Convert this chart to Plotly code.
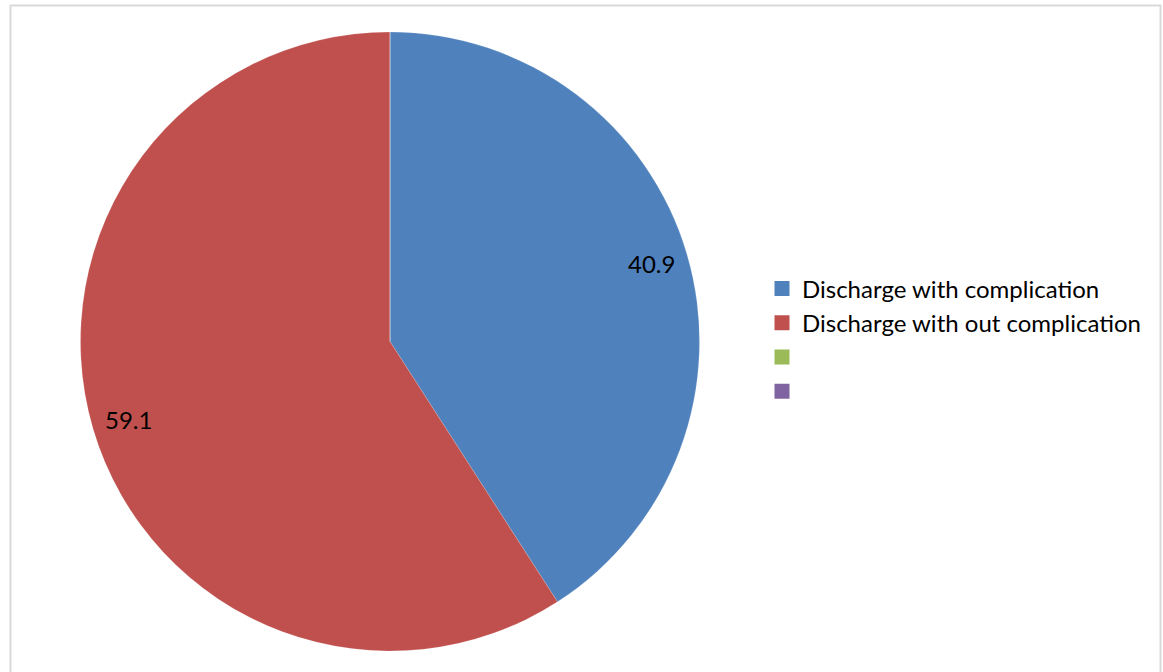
import plotly.graph_objects as go
import math

labels = ["Discharge with complication", "Discharge with out complication", " ", "  "]
values = [40.9, 59.1, 0, 0]
colors = ["#4F81BD", "#C0504D", "#9BBB59", "#8064A2"]
text_labels = ["40.9", "59.1"]

W, H = 1163, 672
cx, cy, R = 390, 341.5, 309.5

fig = go.Figure()
fig.add_trace(go.Pie(
    labels=labels, values=values, sort=False, direction="clockwise", rotation=0,
    marker=dict(colors=colors, line=dict(color="rgba(255,255,255,0.3)", width=0.5)),
    textinfo="none", hoverinfo="label+value", showlegend=False,
    domain=dict(x=[(cx - R) / W, (cx + R) / W], y=[1 - (cy + R) / H, 1 - (cy - R) / H]),
))

# legend entries with square keys
for lab, col in zip(labels, colors):
    fig.add_trace(go.Scatter(x=[None], y=[None], mode="markers", name=lab,
                             marker=dict(symbol="square", size=15, color=col),
                             showlegend=True, hoverinfo="skip"))

# data labels placed along slice mid-angles near the rim
total = sum(values)
cum = 0
annotations = []
for v, t in zip(values[:2], text_labels):
    mid = (cum + v / 2) / total * 2 * math.pi
    cum += v
    x = cx + 0.88 * R * math.sin(mid)
    y = cy - 0.89 * R * math.cos(mid)
    annotations.append(dict(x=x / W, y=1 - y / H, xref="paper", yref="paper", text=t,
                            xanchor="center", yanchor="middle", showarrow=False,
                            font=dict(family="Lato", size=24, color="#000000")))

fig.update_layout(
    width=W, height=H,
    margin=dict(l=0, r=0, t=0, b=0),
    paper_bgcolor="white", plot_bgcolor="white",
    font=dict(family="Lato", size=24, color="#000000"),
    xaxis=dict(visible=False), yaxis=dict(visible=False),
    annotations=annotations,
    legend=dict(x=762 / W, y=1 - 340 / H, xanchor="left", yanchor="middle",
                font=dict(family="Lato", size=24, color="#000000"),
                itemsizing="trace", bgcolor="rgba(0,0,0,0)", tracegroupgap=0),
    shapes=[dict(type="rect", xref="paper", yref="paper", x0=10.5 / W, x1=1160.5 / W,
                 y0=-0.02, y1=1 - 5.5 / H, line=dict(color="#D9D9D9", width=2), layer="below")],
)

fig.write_html("out.html", config={"displayModeBar": False},
               post_script="document.body.style.margin='0';document.body.style.overflow='hidden';")
